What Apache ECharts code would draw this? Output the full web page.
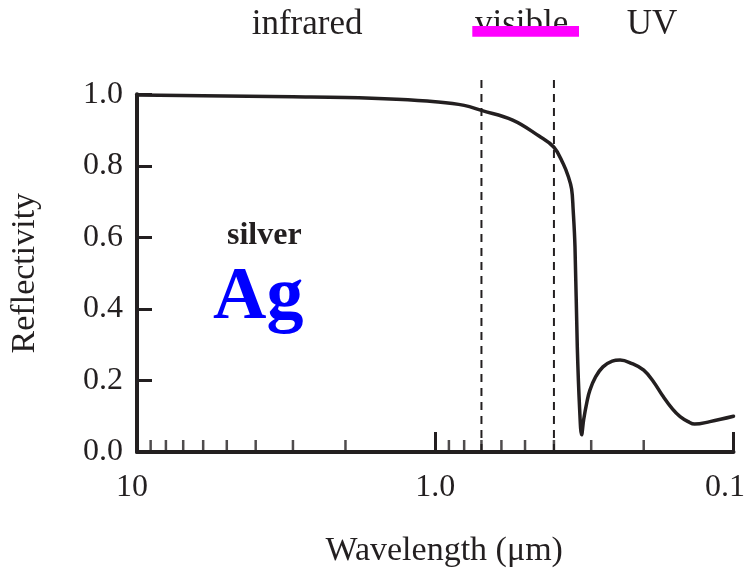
<!DOCTYPE html>
<html>
<head>
<meta charset="utf-8">
<title>Silver reflectivity</title>
<script src="https://cdn.jsdelivr.net/npm/echarts@6/dist/echarts.min.js"></script>
<style>
    html, body { margin: 0; padding: 0; background: #fff; }
    #chart { width: 746px; height: 574px; }
</style>
</head>
<body>
<div id="chart"></div>
<script>
// 波长 (μm) 与反射率
const wavelengths = [10, 6, 3, 2, 1.35, 1.0, 0.8, 0.7, 0.55, 0.45, 0.4, 0.372, 0.358, 0.349, 0.345, 0.34, 0.334,
    0.328, 0.323, 0.318, 0.31, 0.303, 0.29, 0.274, 0.255, 0.24, 0.22, 0.2, 0.185, 0.173, 0.16, 0.151,
    0.142, 0.135, 0.12, 0.1];
const reflectivity = [0.998, 0.996, 0.993, 0.991, 0.986, 0.979, 0.969, 0.955, 0.928, 0.884, 0.852, 0.805, 0.77, 0.735,
    0.68, 0.574, 0.294, 0.12, 0.048, 0.09, 0.14, 0.173, 0.21, 0.238, 0.254, 0.257, 0.248, 0.229, 0.195,
    0.158, 0.12, 0.099, 0.085, 0.078, 0.085, 0.1];

// 可见光边界 (虚线)
const bandEdges = [0.7, 0.4];
const bandLineTop = 1.05;

// 坐标轴刻度
const majorTicks = [10, 1, 0.1];
const majorTickLabels = ['10', '1.0', '0.1'];
const minorTicks = [9, 8, 7, 6, 5, 4, 3, 2, 0.9, 0.8, 0.7, 0.6, 0.5, 0.4, 0.3, 0.2];

// 标注文字
const regionLabels = ['infrared', 'visible', 'UV'];
const materialName = 'silver';
const materialSymbol = 'Ag';

const INK = '#231f20';
const FONT = "'Liberation Serif', 'Times New Roman', serif";

const chart = echarts.init(document.getElementById('chart'));

const curve = wavelengths.map((w, i) => [w, reflectivity[i]]);

const option = {
    animation: false,
    backgroundColor: '#fff',
    grid: {
        left: 137,
        right: 12.5,
        top: 94.3,
        bottom: 122,
        containLabel: false,
        outerBoundsMode: 'none'
    },
    xAxis: {
        type: 'log',
        logBase: 10,
        min: 0.1,
        max: 10,
        inverse: true,
        name: 'Wavelength (μm)',
        nameLocation: 'middle',
        nameGap: 82,
        nameTextStyle: {
            fontFamily: FONT, fontSize: 34, color: INK,
            padding: [0, 0, 0, 18]
        },
        axisLine: { lineStyle: { color: INK, width: 4 } },
        axisTick: { inside: true, length: 20, lineStyle: { color: INK, width: 3 } },
        axisLabel: {
            fontFamily: FONT, fontSize: 32, color: INK, margin: 20,
            formatter: function (v) {
                const idx = majorTicks.findIndex(t => Math.abs(t - v) < 1e-9);
                if (idx < 0) return '';
                // 两端标签略向左偏
                if (idx === 0) return '{l|' + majorTickLabels[idx] + '}';
                if (idx === majorTicks.length - 1) return '{r|' + majorTickLabels[idx] + '}';
                return majorTickLabels[idx];
            },
            rich: {
                l: { fontFamily: FONT, fontSize: 32, color: INK, padding: [0, 10, 0, 0] },
                r: { fontFamily: FONT, fontSize: 32, color: INK, padding: [0, 17, 0, 0] }
            }
        },
        splitLine: { show: false }
    },
    yAxis: {
        type: 'value',
        min: 0,
        max: 1,
        interval: 0.2,
        name: 'Reflectivity',
        nameLocation: 'middle',
        nameGap: 95,
        nameTextStyle: { fontFamily: FONT, fontSize: 34, color: INK },
        axisLine: { show: true, lineStyle: { color: INK, width: 4 } },
        axisTick: { show: true, inside: true, length: 15, lineStyle: { color: INK, width: 3 } },
        axisLabel: {
            fontFamily: FONT, fontSize: 32, color: INK, margin: 14,
            formatter: v => v.toFixed(1)
        },
        splitLine: { show: false }
    },
    graphic: [
        {
            type: 'text', left: 251.7, top: 7,
            style: { text: regionLabels[0], font: '35px ' + FONT, fill: INK }
        },
        {
            type: 'text', left: 475, top: 7,
            style: { text: regionLabels[1], font: '35px ' + FONT, fill: INK }
        },
        {
            type: 'text', left: 626.7, top: 7,
            style: { text: regionLabels[2], font: '35px ' + FONT, fill: INK }
        },
        {
            // 可见光标记条
            type: 'rect', left: 472.3, top: 26, z: 10,
            shape: { width: 106.7, height: 10.7 },
            style: { fill: '#ff00ff' }
        },
        {
            type: 'text', left: 227, top: 220,
            style: { text: materialName, font: 'bold 32px ' + FONT, fill: INK }
        },
        {
            type: 'text', left: 213, top: 262,
            style: { text: materialSymbol, font: 'bold 74px ' + FONT, fill: '#0000ff' }
        }
    ],
    series: [
        {
            type: 'line',
            data: curve,
            showSymbol: false,
            smooth: 0.4,
            lineStyle: { color: INK, width: 3.5, join: 'round', cap: 'round' },
            silent: true,
            z: 5
        },
        ...bandEdges.map(w => ({
            type: 'line',
            data: [[w, 0], [w, bandLineTop]],
            showSymbol: false,
            clip: false,
            lineStyle: { color: INK, width: 2, type: [8, 6] },
            silent: true,
            z: 4
        })),
        {
            // 次刻度
            type: 'scatter',
            data: minorTicks.map(w => [w, 0]),
            symbol: 'rect',
            symbolSize: [2.5, 12],
            symbolOffset: [0, -6],
            itemStyle: { color: INK },
            silent: true,
            z: 6
        }
    ]
};

chart.setOption(option);
</script>
</body>
</html>
